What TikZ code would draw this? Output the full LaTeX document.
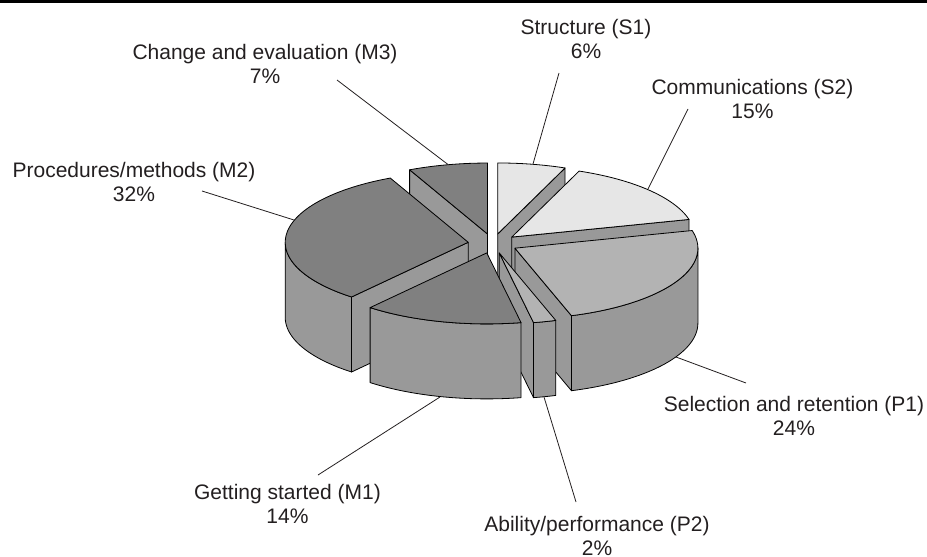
\documentclass[tikz,border=0pt]{standalone}
\usepackage{fontspec}
\setmainfont{Liberation Sans}
\definecolor{sidegray}{HTML}{999999}
\definecolor{lightg}{HTML}{E6E6E6}
\definecolor{midg}{HTML}{B3B3B3}
\definecolor{darkg}{HTML}{808080}
\definecolor{inkc}{HTML}{231F20}
\def\cx{493}\def\cy{243.5}\def\rx{183}\def\ry{71}\def\hh{75}\def\ex{25}
\pgfmathsetmacro\kk{71/183}
\newcommand\offs[2]{%
  \pgfmathsetmacro\ma{(#1+#2)/2}%
  \pgfmathsetmacro\ox{\cx+\ex*sin(\ma)}%
  \pgfmathsetmacro\oy{\cy-\ex*\kk*cos(\ma)}}
\newcommand\radf[1]{%
  \filldraw[sidef] (\ox,\oy) -- ({\ox+\rx*sin(#1)},{\oy-\ry*cos(#1)}) -- ({\ox+\rx*sin(#1)},{\oy-\ry*cos(#1)+\hh}) -- (\ox,{\oy+\hh}) -- cycle;}
\newcommand\wall[2]{%
  \filldraw[sidef] plot[domain=#1:#2,samples=40] ({\ox+\rx*sin(\x)},{\oy-\ry*cos(\x)}) -- plot[domain=#2:#1,samples=40] ({\ox+\rx*sin(\x)},{\oy-\ry*cos(\x)+\hh}) -- cycle;}
\newcommand\topf[3]{%
  \filldraw[face,fill=#3] (\ox,\oy) -- plot[domain=#1:#2,samples=40] ({\ox+\rx*sin(\x)},{\oy-\ry*cos(\x)}) -- cycle;}
\tikzset{
  face/.style={draw=black,line width=0.8pt,line join=round},
  sidef/.style={face,fill=sidegray},
  lab/.style={align=center,font=\fontsize{21}{24}\selectfont,inner sep=0pt,text=inkc,anchor=north},
  leader/.style={draw=inkc,line width=0.8pt},
}
\begin{document}
\begin{tikzpicture}[x=1pt,y=-1pt]
\useasboundingbox (0,0) rectangle (927,557);
\fill[black] (0,0) rectangle (927,2.7);
% slices, back to front
\offs{334.8}{360}\radf{334.8}\topf{334.8}{360}{darkg}
\offs{0}{21.6}\radf{21.6}\topf{0}{21.6}{lightg}
\offs{21.6}{75.6}\radf{75.6}\topf{21.6}{75.6}{lightg}
\offs{219.6}{334.8}\radf{219.6}\wall{219.6}{270}\topf{219.6}{334.8}{darkg}
\offs{75.6}{162}\radf{162}\wall{90}{162}\topf{75.6}{162}{midg}
\offs{162}{169.2}\radf{169.2}\wall{162}{169.2}\topf{162}{169.2}{midg}
\offs{169.2}{219.6}\wall{169.2}{219.6}\topf{169.2}{219.6}{darkg}
% labels
\node[lab] (s1) at (586,19.5) {Structure (S1)\\6\%};
\node[lab] (s2) at (752.5,79.5) {Communications (S2)\\15\%};
\node[lab] (m3) at (265,44.5) {Change and evaluation (M3)\\7\%};
\node[lab] (m2) at (134,162.5) {Procedures/methods (M2)\\32\%};
\node[lab] (p1) at (794,396.5) {Selection and retention (P1)\\24\%};
\node[lab] (m1) at (287.5,484.5) {Getting started (M1)\\14\%};
\node[lab] (p2) at (597,516.5) {Ability/performance (P2)\\2\%};
% leader ends
\coordinate (s1a) at (559,73);   \coordinate (s1b) at (533,164);
\coordinate (s2a) at (688,109);  \coordinate (s2b) at (648,189);
\coordinate (m3a) at (337,80);   \coordinate (m3b) at (448,164.5);
\coordinate (m2a) at (202,191);  \coordinate (m2b) at (294,220);
\coordinate (p1a) at (746,383);  \coordinate (p1b) at (676,357);
\coordinate (m1a) at (318,475);  \coordinate (m1b) at (440,397);
\coordinate (p2a) at (576,502);  \coordinate (p2b) at (544,397);
\foreach \n in {s1,s2,m3,m2,p1,m1,p2} \draw[leader] (\n a) -- (\n b);
\end{tikzpicture}
\end{document}
